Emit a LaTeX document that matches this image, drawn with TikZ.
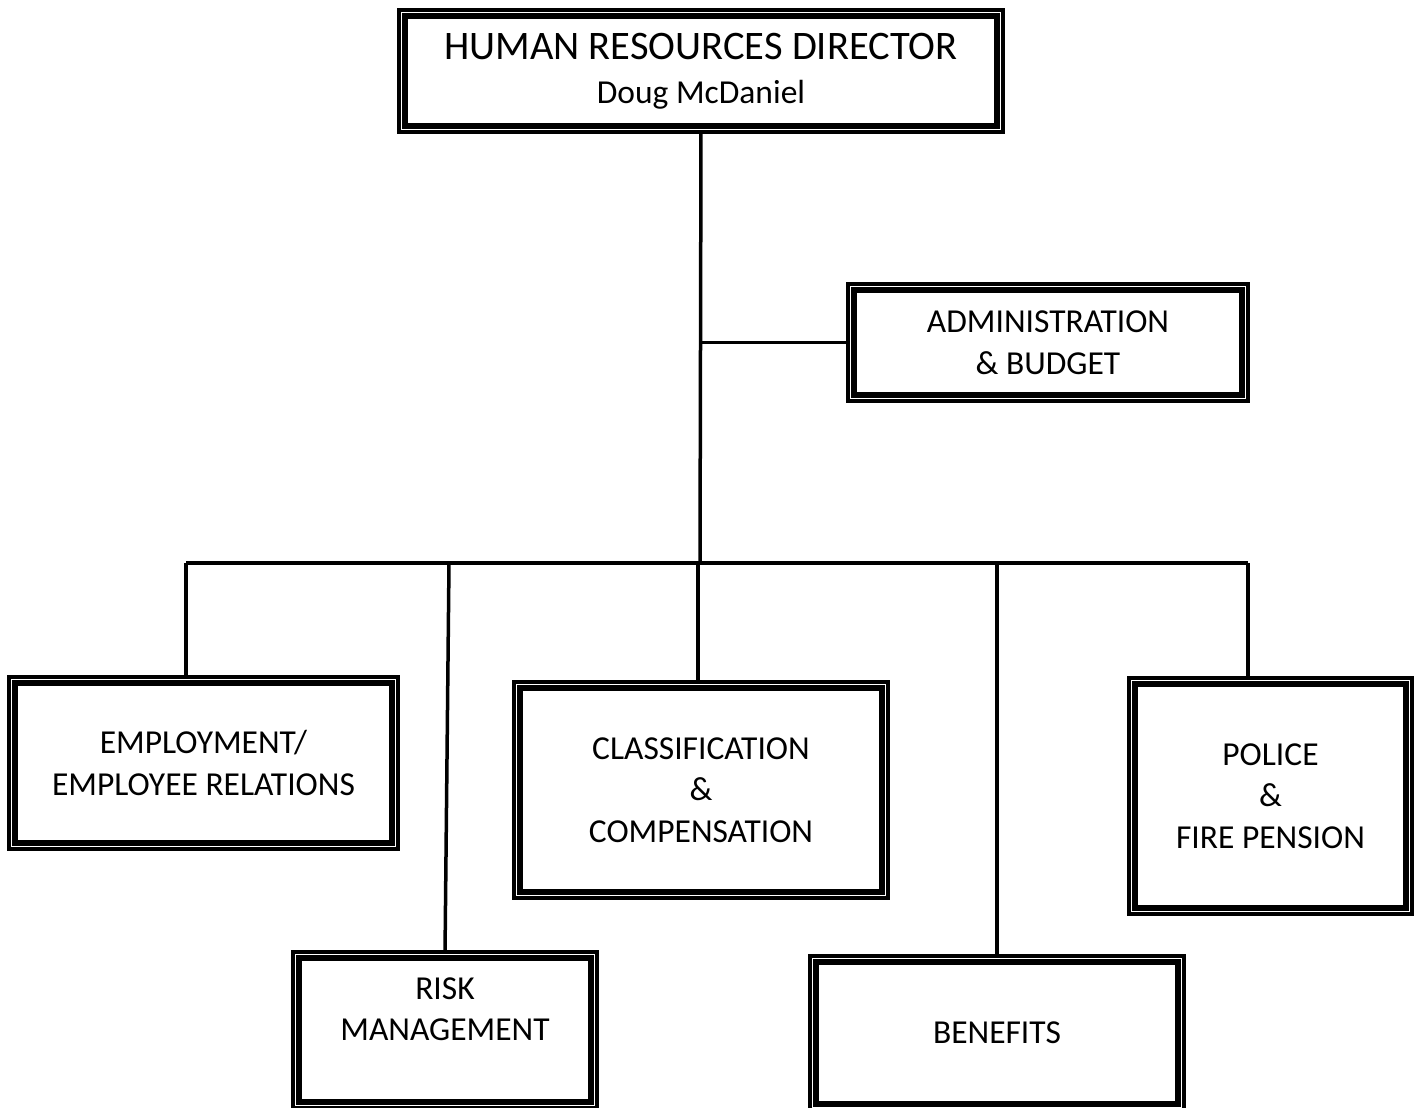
\documentclass[tikz,border=0pt]{standalone}
\usepackage{fontspec}
\setmainfont{Carlito}
\usetikzlibrary{backgrounds}

\begin{document}
\begin{tikzpicture}[x=1pt, y=-1pt,
    frame/.style={draw=white, line width=8pt, fill=white,
        preaction={draw=black, line width=16pt},
        postaction={draw=black, line width=6pt},
        align=center, inner sep=0pt,
        font=\fontsize{33.5}{41.5}\selectfont},
    link/.style={draw=black, line width=3.5pt}]
    \useasboundingbox (0,0) rectangle (1416,1108);

    \node[frame, minimum width=592pt, minimum height=110pt] (director) at (701,71)
        {{\fontsize{40.5}{46}\selectfont HUMAN RESOURCES DIRECTOR}\\[3pt]Doug McDaniel};
    \node[frame, minimum width=388pt, minimum height=105pt] (admin) at (1048,342.5)
        {ADMINISTRATION\\\& BUDGET};
    \node[frame, minimum width=377pt, minimum height=160pt] (employ) at (203.5,763)
        {EMPLOYMENT/\\EMPLOYEE RELATIONS};
    \node[frame, minimum width=362pt, minimum height=204pt] (classif) at (701,790)
        {CLASSIFICATION\\\&\\COMPENSATION};
    \node[frame, minimum width=271pt, minimum height=224pt] (police) at (1270.5,796)
        {POLICE\\\&\\FIRE PENSION};
    \node[frame, minimum width=292pt, minimum height=144pt] (risk) at (445,1030)
        {RISK\\MANAGEMENT\\\mbox{}};
    \node[frame, minimum width=362pt, minimum height=142pt] (benefits) at (997,1033)
        {BENEFITS};

    % bus taps
    \coordinate (hub) at (700,563);
    \coordinate (tapE) at (186,563);
    \coordinate (tapR) at (449,563);
    \coordinate (tapC) at (698,563);
    \coordinate (tapB) at (997,563);
    \coordinate (tapP) at (1248,563);

    \begin{scope}[on background layer]
        \draw[link] (director.south) -- (hub);
        \draw[link] (director.south |- admin.west) -- (admin.west);
        \draw[link] (tapE) -- (tapP);
        \draw[link] (tapE) -- (tapE |- employ.north);
        \draw[link] (tapR) -- (risk.north);
        \draw[link] (tapC) -- (tapC |- classif.north);
        \draw[link] (tapB) -- (benefits.north);
        \draw[link] (tapP) -- (tapP |- police.north);
    \end{scope}
\end{tikzpicture}
\end{document}
